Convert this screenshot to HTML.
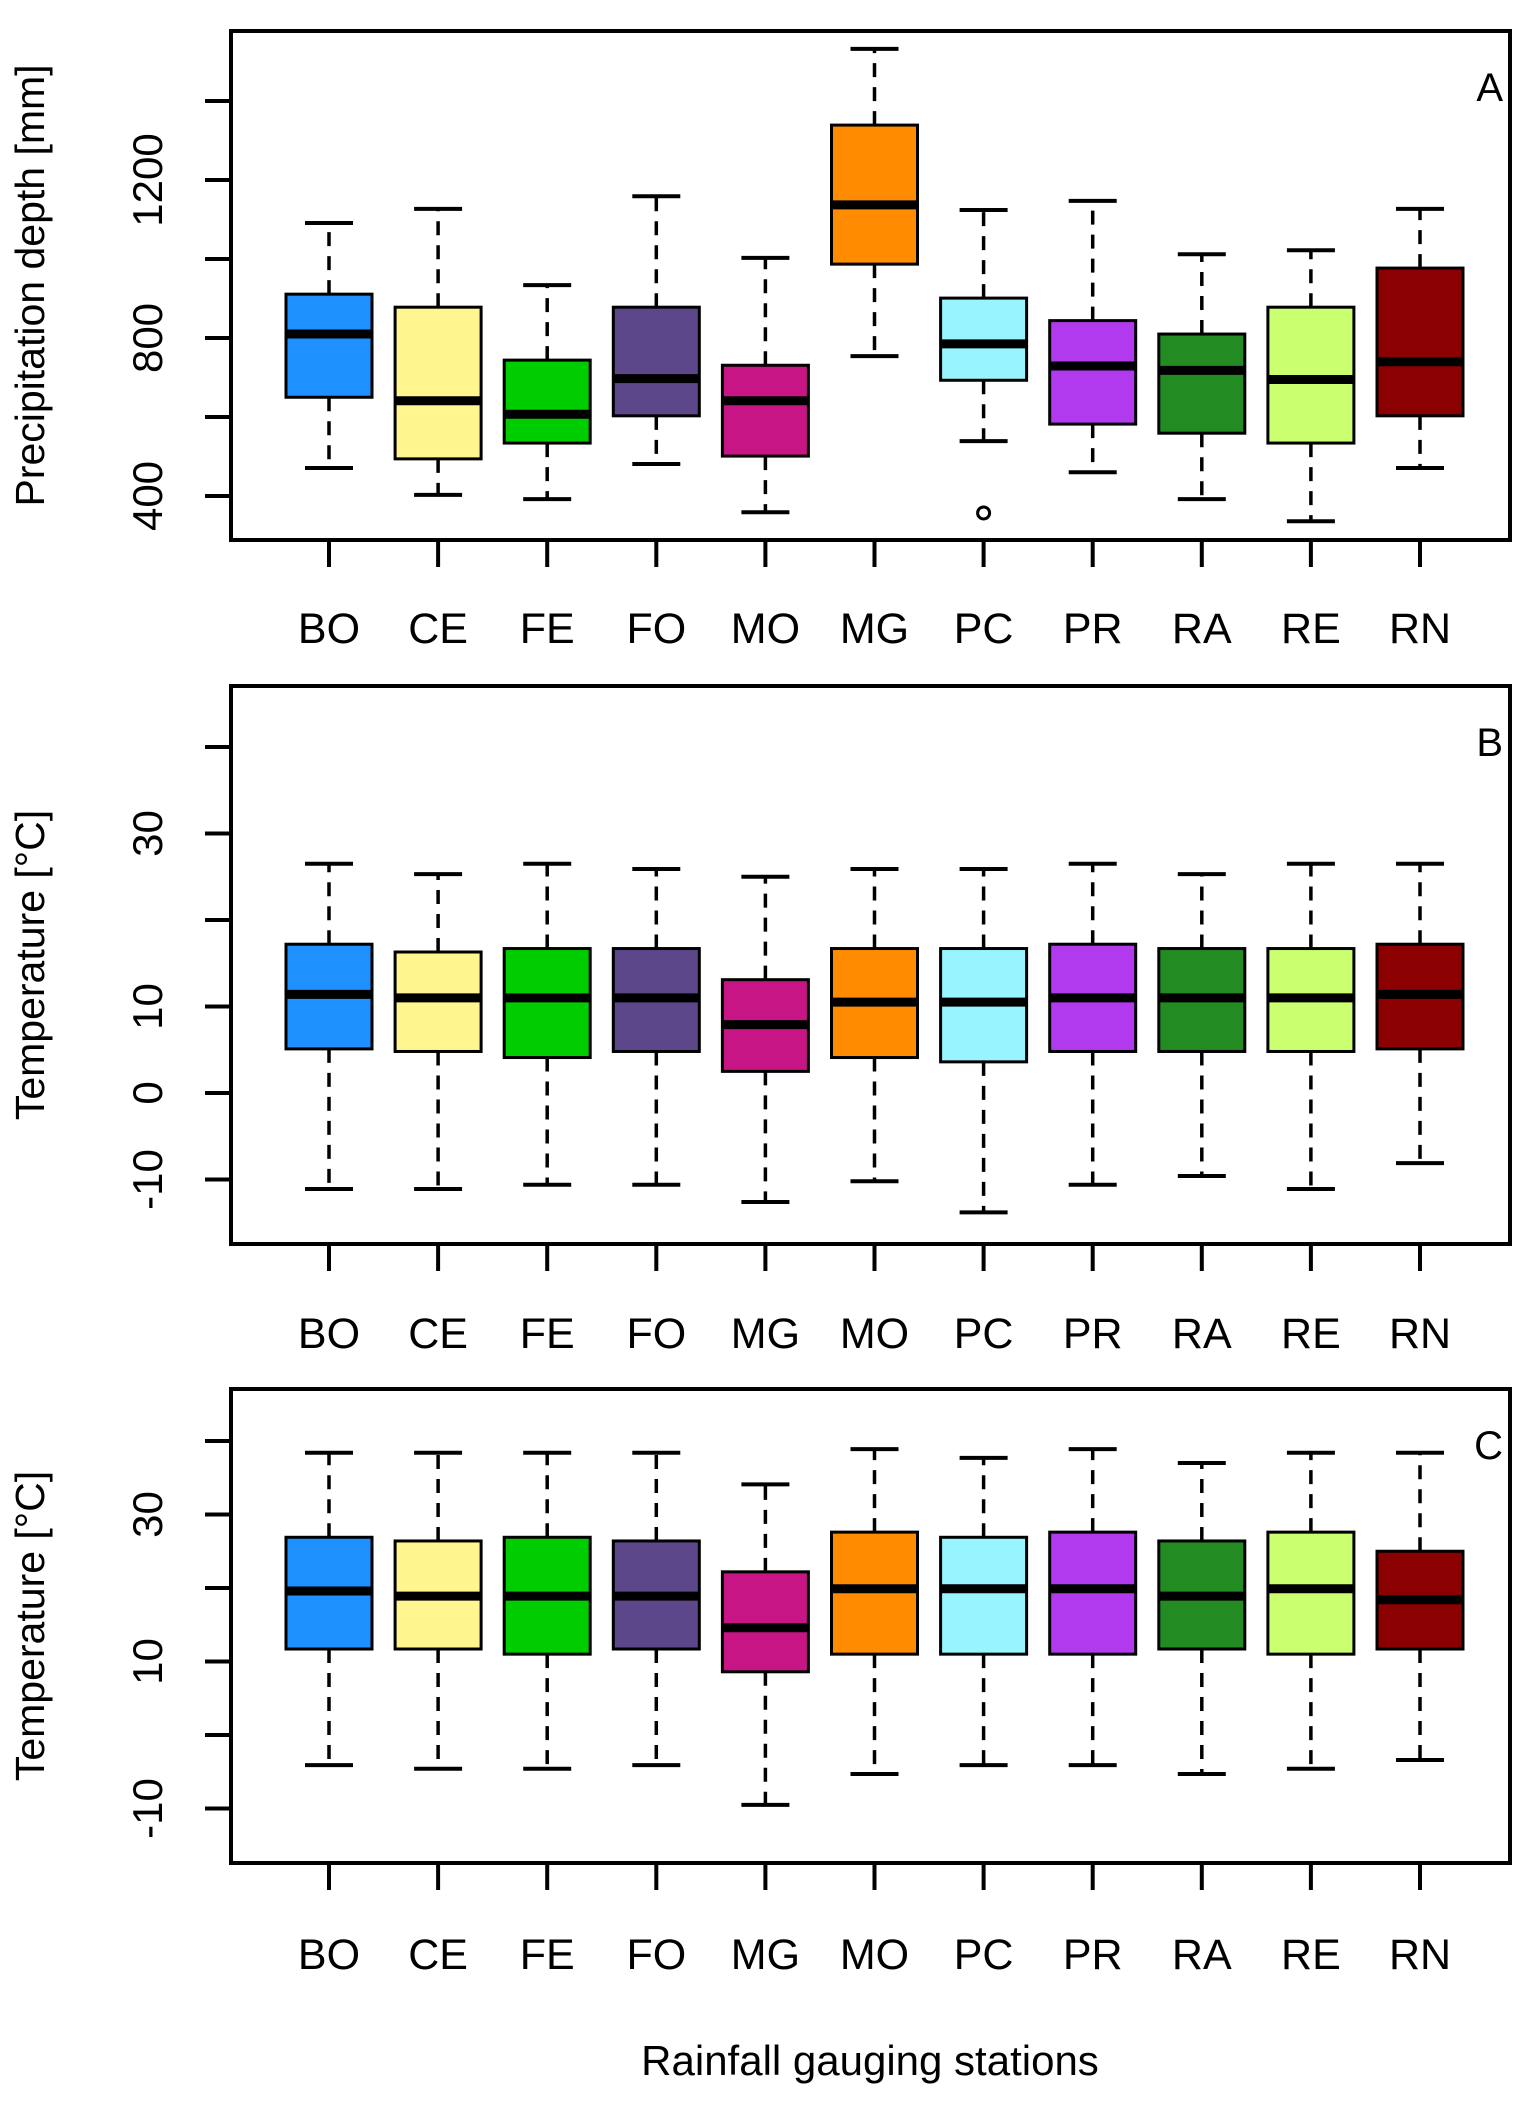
<!DOCTYPE html>
<html><head><meta charset="utf-8"><style>
body{margin:0;background:#fff;}
svg{display:block;font-family:"Liberation Sans",sans-serif;}
</style></head><body>
<svg id="chart" width="1536" height="2107" viewBox="0 0 1536 2107" xmlns="http://www.w3.org/2000/svg">
<text x="870" y="2075" font-size="42" text-anchor="middle">Rainfall gauging stations</text>
</svg>
<script>
const stationsA = ["BO","CE","FE","FO","MO","MG","PC","PR","RA","RE","RN"];
const stationsBC = ["BO","CE","FE","FO","MG","MO","PC","PR","RA","RE","RN"];
const boxColors = ["#1E90FF","#FFF68F","#00CD00","#5D478B","#C71585","#FF8C00","#98F5FF","#B23AEE","#228B22","#CAFF70","#8B0000"];
// [low whisker, Q1, median, Q3, high whisker]
const statsA = [[471,650,810,911,1091],[403,494,641,878,1127],[392,534,607,744,934],[481,603,697,878,1159],[359,501,641,731,1003],[754,987,1137,1339,1532],[539,693,785,901,1124],[460,582,729,844,1147],[392,559,718,810,1012],[336,534,695,878,1022],[471,603,740,977,1127]];
const outliersA = [[6,357]];
const statsB = [[-11.1,5.1,11.4,17.2,26.5],[-11.1,4.8,11.0,16.3,25.3],[-10.6,4.1,11.0,16.7,26.5],[-10.6,4.8,11.0,16.7,25.9],[-12.6,2.5,7.9,13.1,25.0],[-10.2,4.1,10.5,16.7,25.9],[-13.8,3.6,10.5,16.7,25.9],[-10.6,4.8,11.0,17.2,26.5],[-9.6,4.8,11.0,16.7,25.3],[-11.1,4.8,11.0,16.7,26.5],[-8.1,5.1,11.4,17.2,26.5]];
const statsC = [[-4.1,11.7,19.6,26.9,38.4],[-4.6,11.7,18.9,26.4,38.4],[-4.6,11.0,18.9,26.9,38.4],[-4.1,11.7,18.9,26.4,38.4],[-9.5,8.6,14.6,22.2,34.1],[-5.3,11.0,19.9,27.6,38.9],[-4.1,11.0,19.9,26.9,37.7],[-4.1,11.0,19.9,27.6,38.9],[-5.3,11.7,18.9,26.4,37.0],[-4.6,11.0,19.9,27.6,38.4],[-3.4,11.7,18.4,25.0,38.4]];
const ticksA = [400,600,800,1000,1200,1400];
const tickLabelsA = [400,800,1200];
const ticksB = [-10,0,10,20,30,40];
const tickLabelsB = [-10,0,10,30];
const ticksC = [-10,0,10,20,30,40];
const tickLabelsC = [-10,10,30];

const NS="http://www.w3.org/2000/svg";
const svg=document.getElementById('chart');
function mk(tag,attrs,parent){const e=document.createElementNS(NS,tag);for(const k in attrs)e.setAttribute(k,attrs[k]);(parent||svg).appendChild(e);return e;}
const X0=231,X1=1510;
function xPos(i){return 329+i*109.1;}

function panel(cfg){
  const g=mk('g',{});
  
  
  const y=v=>cfg.zeroY-(v-cfg.zeroV)*cfg.k;
  cfg.stats.forEach((s,i)=>{
    const cx=xPos(i),hw=43,cw=24;
    const bg=mk('g',{},g);
    
    
    mk('line',{x1:cx,x2:cx,y1:y(s[3]),y2:y(s[4]),stroke:'#000','stroke-width':3.5,'stroke-dasharray':'14 10'},bg);
    mk('line',{x1:cx,x2:cx,y1:y(s[1]),y2:y(s[0]),stroke:'#000','stroke-width':3.5,'stroke-dasharray':'14 10'},bg);
    mk('line',{x1:cx-cw,x2:cx+cw,y1:y(s[4]),y2:y(s[4]),stroke:'#000','stroke-width':4},bg);
    mk('line',{x1:cx-cw,x2:cx+cw,y1:y(s[0]),y2:y(s[0]),stroke:'#000','stroke-width':4},bg);
    mk('rect',{x:cx-hw,y:y(s[3]),width:2*hw,height:y(s[1])-y(s[3]),fill:boxColors[i],stroke:'#000','stroke-width':3},bg);
    mk('line',{x1:cx-hw,x2:cx+hw,y1:y(s[2]),y2:y(s[2]),stroke:'#000','stroke-width':9},bg);
  });
  (cfg.outliers||[]).forEach(o=>{
    const c=mk('circle',{cx:xPos(o[0]),cy:y(o[1]),r:6,fill:'none',stroke:'#000','stroke-width':3},g);
    
    
  });
  const f=mk('rect',{x:X0,y:cfg.top,width:X1-X0,height:cfg.bot-cfg.top,fill:'none',stroke:'#000','stroke-width':4},g);
  
  
  cfg.ticks.forEach(t=>{mk('line',{x1:205,x2:X0,y1:y(t),y2:y(t),stroke:'#000','stroke-width':4},g);});
  cfg.tickLabels.forEach(t=>{
    const tx=mk('text',{x:0,y:0,'font-size':42,'text-anchor':'middle',transform:`translate(162,${y(t)}) rotate(-90)`},g);
    tx.textContent=t;
    
    
  });
  cfg.cats.forEach((c,i)=>{
    mk('line',{x1:xPos(i),x2:xPos(i),y1:cfg.bot,y2:cfg.bot+27,stroke:'#000','stroke-width':4},g);
    const tx=mk('text',{x:xPos(i),y:cfg.labY,'font-size':43,'text-anchor':'middle'},g);
    tx.textContent=c;
    
    
  });
  const yt=mk('text',{x:0,y:0,'font-size':41,'text-anchor':'middle',transform:`translate(44,${(cfg.top+cfg.bot)/2}) rotate(-90)`},g);
  yt.textContent=cfg.ytitle;
  
  
  const pl=mk('text',{x:1503,y:cfg.top+70,'font-size':40,'text-anchor':'end'},g);
  pl.textContent=cfg.letter;
  
  
}
panel({name:'panel-a',cats:stationsA,stats:statsA,outliers:outliersA,top:31,bot:540,zeroV:400,zeroY:496,k:0.395,ticks:ticksA,tickLabels:tickLabelsA,labY:643,ytitle:'Precipitation depth [mm]',letter:'A'});
panel({name:'panel-b',cats:stationsBC,stats:statsB,top:686,bot:1244,zeroV:0,zeroY:1093,k:8.65,ticks:ticksB,tickLabels:tickLabelsB,labY:1348,ytitle:'Temperature [°C]',letter:'B'});
panel({name:'panel-c',cats:stationsBC,stats:statsC,top:1389,bot:1863,zeroV:0,zeroY:1735,k:7.35,ticks:ticksC,tickLabels:tickLabelsC,labY:1969,ytitle:'Temperature [°C]',letter:'C'});
</script>
</body></html>
